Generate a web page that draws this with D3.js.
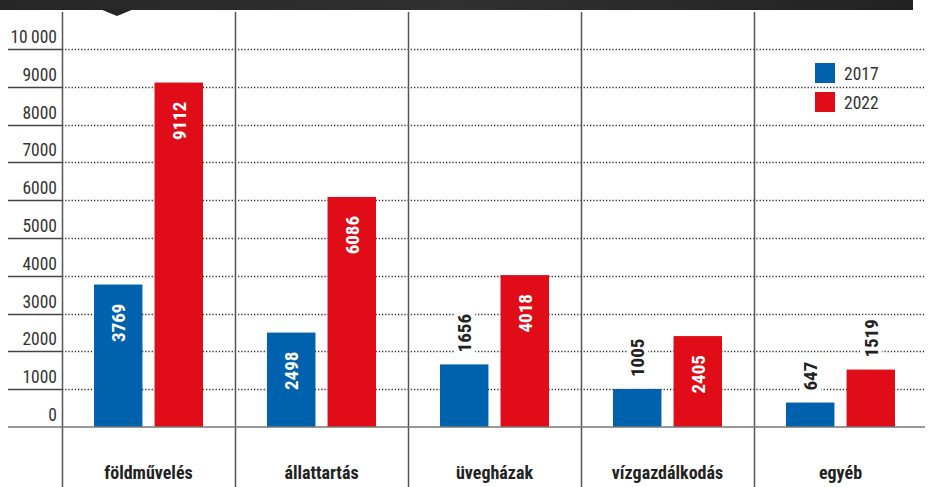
<!DOCTYPE html>
<html>
<head>
<meta charset="utf-8">
<script src="https://cdn.jsdelivr.net/npm/d3@7/dist/d3.min.js"></script>
<style>
  html, body { margin: 0; padding: 0; background: #fff; }
  svg { display: block; }
  text { font-family: "Roboto Condensed", "Liberation Sans Narrow", "DejaVu Sans Condensed", "Open Sans", sans-serif; font-stretch: condensed; }
</style>
</head>
<body>
<svg id="chart" width="936" height="487"></svg>
<script>
// Categories and yearly values
const categories = ["földművelés", "állattartás", "üvegházak", "vízgazdálkodás", "egyéb"];
const years = ["2017", "2022"];
const values2017 = [3769, 2498, 1656, 1005, 647];
const values2022 = [9112, 6086, 4018, 2405, 1519];
const yTicks = [0, 1000, 2000, 3000, 4000, 5000, 6000, 7000, 8000, 9000, 10000];
const yTickLabels = ["0", "1000", "2000", "3000", "4000", "5000", "6000", "7000", "8000", "9000", "10\u2009000"];
const colors = { "2017": "#0061ad", "2022": "#e00c18" };

const svg = d3.select("#chart");

const plot = { left: 62, right: 925, top: 49, bottom: 427 };

const x = d3.scaleBand().domain(categories).range([plot.left, plot.left + 173 * 5]).paddingInner(0).paddingOuter(0);
const xInner = d3.scaleBand().domain(years).range([32, 141]).paddingInner(0.2).paddingOuter(0);
const y = d3.scaleLinear().domain([0, 10000]).range([plot.bottom, plot.top]);

// Header band with a downward notch
const hdrGrad = svg.append("defs").append("linearGradient").attr("id", "hdr").attr("x1", 0).attr("x2", 1);
hdrGrad.append("stop").attr("offset", "0%").attr("stop-color", "#262626");
hdrGrad.append("stop").attr("offset", "50%").attr("stop-color", "#303030");
hdrGrad.append("stop").attr("offset", "100%").attr("stop-color", "#222");
svg.append("rect").attr("x", 0).attr("y", 0).attr("width", 913).attr("height", 10).attr("fill", "url(#hdr)");
svg.append("path").attr("d", "M100,9 L134,9 L117,16 Z").attr("fill", "#262626");

// Horizontal gridlines: solid under the tick label, dotted across the plot
const grid = svg.append("g");
yTicks.forEach(t => {
  const yy = Math.round(y(t)) + 0.5;
  if (t === 0) return;
  grid.append("line").attr("x1", 8).attr("x2", plot.left).attr("y1", yy).attr("y2", yy)
    .attr("stroke", "#444").attr("stroke-width", 1.3);
  grid.append("line").attr("x1", plot.left).attr("x2", plot.right).attr("y1", yy).attr("y2", yy)
    .attr("stroke", "#333").attr("stroke-width", 1.3).attr("stroke-dasharray", "1.3,1.9");
});

// Y tick labels
svg.append("g").selectAll("text").data(yTicks).join("text")
  .attr("x", 57).attr("y", d => y(d) - 6)
  .attr("text-anchor", "end")
  .attr("font-size", 17.5).attr("fill", "#333")
  .text((d, i) => yTickLabels[i]);

// Column separators
svg.append("g").selectAll("line").data(categories).join("line")
  .attr("x1", d => Math.round(x(d)) + 0.5).attr("x2", d => Math.round(x(d)) + 0.5)
  .attr("y1", 12).attr("y2", 487)
  .attr("stroke", "#555").attr("stroke-width", 1.5);

// Bars
const groups = svg.append("g").selectAll("g").data(categories).join("g")
  .attr("transform", d => `translate(${x(d)},0)`);

const rows = categories.map((c, i) => [
  { year: "2017", value: values2017[i] },
  { year: "2022", value: values2022[i] }
]);

const valueFont = 19;

groups.each(function (c, i) {
  const g = d3.select(this);
  rows[i].forEach(r => {
    const bx = xInner(r.year);
    const bw = xInner.bandwidth();
    const top = y(r.value);
    g.append("rect").attr("x", bx).attr("y", top).attr("width", bw)
      .attr("height", y(0) - top).attr("fill", colors[r.year]);

    const cx = bx + bw / 2 + 7;
    const inside = r.value >= 2000;
    if (inside) {
      g.append("text")
        .attr("transform", `translate(${cx},${top + 19}) rotate(-90)`)
        .attr("text-anchor", "end")
        .attr("font-size", valueFont).attr("font-weight", "bold").attr("fill", "#fff")
        .text(r.value);
    } else {
      const lbl = g.append("text")
        .attr("transform", `translate(${cx},${top - 12}) rotate(-90)`)
        .attr("text-anchor", "start")
        .attr("font-size", valueFont).attr("font-weight", "bold").attr("fill", "#222")
        .text(r.value);
      const bb = lbl.node().getBBox();
      // white knockout behind the label so gridlines stop around it
      g.insert("rect", "text")
        .attr("x", cx - 17).attr("y", top - 12 - bb.width - 4)
        .attr("width", 21).attr("height", bb.width + 8)
        .attr("fill", "#fff");
    }
  });
});

// Baseline
svg.append("line").attr("x1", 8).attr("x2", plot.right)
  .attr("y1", y(0)).attr("y2", y(0))
  .attr("stroke", "#777").attr("stroke-width", 1.6);

// Category labels
svg.append("g").selectAll("text").data(categories).join("text")
  .attr("x", d => x(d) + x.bandwidth() / 2).attr("y", 479)
  .attr("text-anchor", "middle")
  .attr("font-size", 18).attr("font-weight", "bold").attr("fill", "#222")
  .text(d => d);

// Legend
const legend = svg.append("g");
years.forEach((yr, i) => {
  legend.append("rect").attr("x", 815).attr("y", 63 + i * 29).attr("width", 20).attr("height", 20)
    .attr("fill", colors[yr]);
  legend.append("text").attr("x", 844).attr("y", 80 + i * 29)
    .attr("font-size", 17.5).attr("fill", "#333").text(yr);
});
</script>
</body>
</html>
